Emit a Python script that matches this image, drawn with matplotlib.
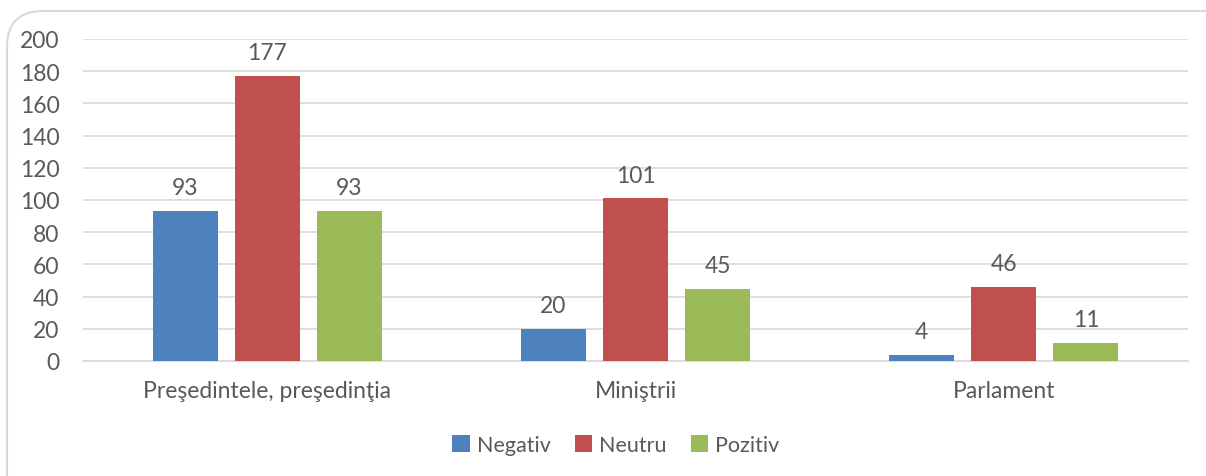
import matplotlib.pyplot as plt
import numpy as np
from matplotlib.patches import FancyBboxPatch

categories = ["Preşedintele, preşedinţia", "Miniştrii", "Parlament"]
series_names = ["Negativ", "Neutru", "Pozitiv"]
negativ = [93, 20, 4]
neutru = [177, 101, 46]
pozitiv = [93, 45, 11]
colors = ["#4f81bd", "#c0504d", "#9bbb59"]
yticks = [0, 20, 40, 60, 80, 100, 120, 140, 160, 180, 200]

plt.rcParams['font.family'] = ['Lato', 'DejaVu Sans']
tc = "#595959"
fs = 16.5

fig = plt.figure(figsize=(12.06, 4.77), dpi=100)
border = FancyBboxPatch((7/1206, -0.5), 2.0, 1 - 12/477 + 0.5,
                        boxstyle="round,pad=0,rounding_size=0.03",
                        transform=fig.transFigure, facecolor="none", edgecolor="#d9d9d9",
                        linewidth=1.5, mutation_aspect=2.5)
fig.patches.append(border)

ax = fig.add_axes([83/1206, 1 - 362/477, 1105/1206, 322/477])
ax.set_facecolor("none")
x = np.arange(len(categories))
step = 0.2227
width = 0.176
for i, (name, vals) in enumerate(zip(series_names, [negativ, neutru, pozitiv])):
    bars = ax.bar(x + (i - 1) * step, vals, width, color=colors[i], label=name, zorder=3)
    for b, v in zip(bars, vals):
        ax.text(b.get_x() + b.get_width() / 2, v + 8, str(v), ha="center", va="bottom",
                fontsize=fs, color=tc)

ax.set_xlim(-0.5, 2.5)
ax.set_ylim(0, 200)
ax.set_yticks(yticks)
ax.set_xticks(x)
ax.set_xticklabels(categories)
ax.grid(axis="y", color="#d9d9d9", linewidth=1.2, zorder=0)
for s in ["top", "right", "left"]:
    ax.spines[s].set_visible(False)
ax.spines["bottom"].set_color("#d9d9d9")
ax.spines["bottom"].set_linewidth(1.2)
ax.tick_params(axis="both", length=0, labelsize=fs, colors=tc)
ax.tick_params(axis="y", pad=17)
ax.tick_params(axis="x", pad=14)

leg = fig.legend(loc="center", bbox_to_anchor=(616/1206, 1 - 446/477), ncol=3, frameon=False,
                 fontsize=15.5, handlelength=0.8, handleheight=0.8, handletextpad=0.35,
                 columnspacing=1.1, labelcolor=tc)

fig.savefig("out.png", dpi=100)
